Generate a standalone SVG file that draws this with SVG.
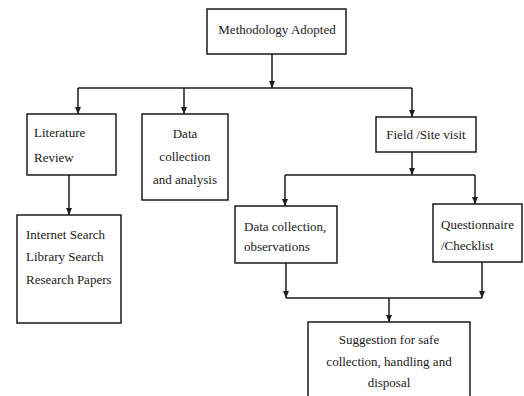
<svg xmlns="http://www.w3.org/2000/svg" width="524" height="396" viewBox="0 0 524 396">
<style>
.box{fill:#fff;stroke:#1a1a1a;stroke-width:1.5}
.t{font-family:"Liberation Serif","Times New Roman",serif;font-size:13px;fill:#1a1a1a}
.c{text-anchor:middle}
.ln{fill:none;stroke:#1a1a1a;stroke-width:1.5}
</style>
<defs>
<marker id="ah" markerWidth="6" markerHeight="7" refX="3" refY="6.5" orient="auto-start-reverse" markerUnits="userSpaceOnUse" viewBox="0 0 6 7">
<path d="M0,0 L6,0 L3,7 Z" fill="#1a1a1a" transform="rotate(0)"/>
</marker>
</defs>
<rect width="524" height="396" fill="#fff"/>
<g id="connectors">
<path class="ln" d="M272,54 V88"/>
<path class="ln" d="M78,88 H412"/>
<path class="ln" d="M78,88 V114"/>
<path class="ln" d="M184,88 V114"/>
<path class="ln" d="M412,88 V117"/>
<path class="ln" d="M412,152 V175"/>
<path class="ln" d="M285,175 H475"/>
<path class="ln" d="M285,175 V206"/>
<path class="ln" d="M475,175 V204"/>
<path class="ln" d="M69,175 V215"/>
<path class="ln" d="M286,263 V298"/>
<path class="ln" d="M482,262 V298"/>
<path class="ln" d="M286,298 H482"/>
<path class="ln" d="M389,298 V322"/>
<g fill="#1a1a1a">
<path d="M269,81 L275,81 L272,88 Z"/>
<path d="M75,107 L81,107 L78,114 Z"/>
<path d="M181,107 L187,107 L184,114 Z"/>
<path d="M409,110 L415,110 L412,117 Z"/>
<path d="M409,168 L415,168 L412,175 Z"/>
<path d="M282,199 L288,199 L285,206 Z"/>
<path d="M472,197 L478,197 L475,204 Z"/>
<path d="M66,208 L72,208 L69,215 Z"/>
<path d="M283,291 L289,291 L286,298 Z"/>
<path d="M479,291 L485,291 L482,298 Z"/>
<path d="M386,315 L392,315 L389,322 Z"/>
</g>
</g>
<g id="methodology">
<rect class="box" x="207" y="9" width="139" height="45"/>
<text class="t c" x="277" y="34">Methodology Adopted</text>
</g>
<g id="literature">
<rect class="box" x="27" y="114" width="89" height="61"/>
<text class="t" x="34" y="137">Literature</text>
<text class="t" x="34" y="162">Review</text>
</g>
<g id="datacollection">
<rect class="box" x="142" y="114" width="86" height="86"/>
<text class="t c" x="185" y="138">Data</text>
<text class="t c" x="185" y="161">collection</text>
<text class="t c" x="185" y="184">and analysis</text>
</g>
<g id="field">
<rect class="box" x="376" y="117" width="100" height="35"/>
<text class="t c" x="426" y="139">Field /Site visit</text>
</g>
<g id="internet">
<rect class="box" x="17" y="215" width="104" height="108"/>
<text class="t" x="26" y="239">Internet Search</text>
<text class="t" x="26" y="261">Library Search</text>
<text class="t" x="26" y="284">Research Papers</text>
</g>
<g id="observations">
<rect class="box" x="235" y="206" width="102" height="57"/>
<text class="t" x="244" y="231">Data collection,</text>
<text class="t" x="244" y="251">observations</text>
</g>
<g id="questionnaire">
<rect class="box" x="433" y="204" width="89" height="58"/>
<text class="t" x="441" y="229">Questionnaire</text>
<text class="t" x="441" y="250">/Checklist</text>
</g>
<g id="suggestion">
<rect class="box" x="308" y="322" width="162" height="80"/>
<text class="t c" x="389" y="344">Suggestion for safe</text>
<text class="t c" x="389" y="366">collection, handling and</text>
<text class="t c" x="389" y="387">disposal</text>
</g>
</svg>
